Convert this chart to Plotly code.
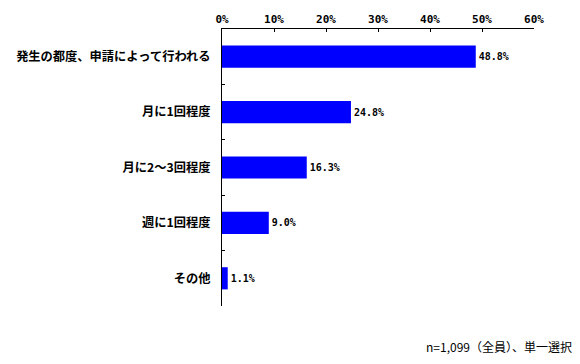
import plotly.graph_objects as go

categories = ["発生の都度、申請によって行われる", "月に1回程度", "月に2～3回程度", "週に1回程度", "その他"]
values = [48.8, 24.8, 16.3, 9.0, 1.1]
x_ticks = [0, 10, 20, 30, 40, 50, 60]
x_tick_labels = ["0%", "10%", "20%", "30%", "40%", "50%", "60%"]
footnote = "n=1,099（全員）、単一選択"

fig = go.Figure(go.Bar(
    y=categories,
    x=values,
    orientation="h",
    marker=dict(color="#0000FF", line=dict(width=0)),
    text=[f"{v:.1f}%" for v in values],
    textposition="outside",
    constraintext="none",
    cliponaxis=False,
    textfont=dict(family="DejaVu Sans Mono", size=10, color="black", weight="bold"),
))

# page body has an 8px margin, so the figure is 8px smaller and margins shifted
fig.update_layout(
    width=572, height=356,
    margin=dict(l=214, r=46, t=21, b=58, autoexpand=False),
    paper_bgcolor="white", plot_bgcolor="white",
    bargap=0.6,
    showlegend=False,
    xaxis=dict(
        side="top", range=[0, 60], tickvals=x_ticks, ticktext=x_tick_labels,
        ticks="inside", ticklen=3, tickcolor="black", showline=True, linecolor="black",
        linewidth=1, showgrid=False, zeroline=False, ticklabelstandoff=1, automargin=False,
        tickfont=dict(family="DejaVu Sans Mono", size=11, color="black", weight="bold"),
    ),
    yaxis=dict(
        categoryorder="array", categoryarray=categories, autorange="reversed",
        tickson="boundaries", ticks="inside", ticklen=3, tickcolor="black",
        showline=True, linecolor="black", linewidth=1, showgrid=False, zeroline=False,
        ticklabelstandoff=8, automargin=False,
        tickfont=dict(family="Noto Sans CJK JP", size=12.25, color="black", weight="bold"),
    ),
    annotations=[dict(
        text=footnote, xref="paper", yref="paper", x=1.0 + 40/312, y=-(347-306)/277,
        xanchor="right", yanchor="middle", showarrow=False,
        font=dict(family="Noto Sans CJK JP", size=12, color="black"),
    )],
)

fig.write_html("out.html")
